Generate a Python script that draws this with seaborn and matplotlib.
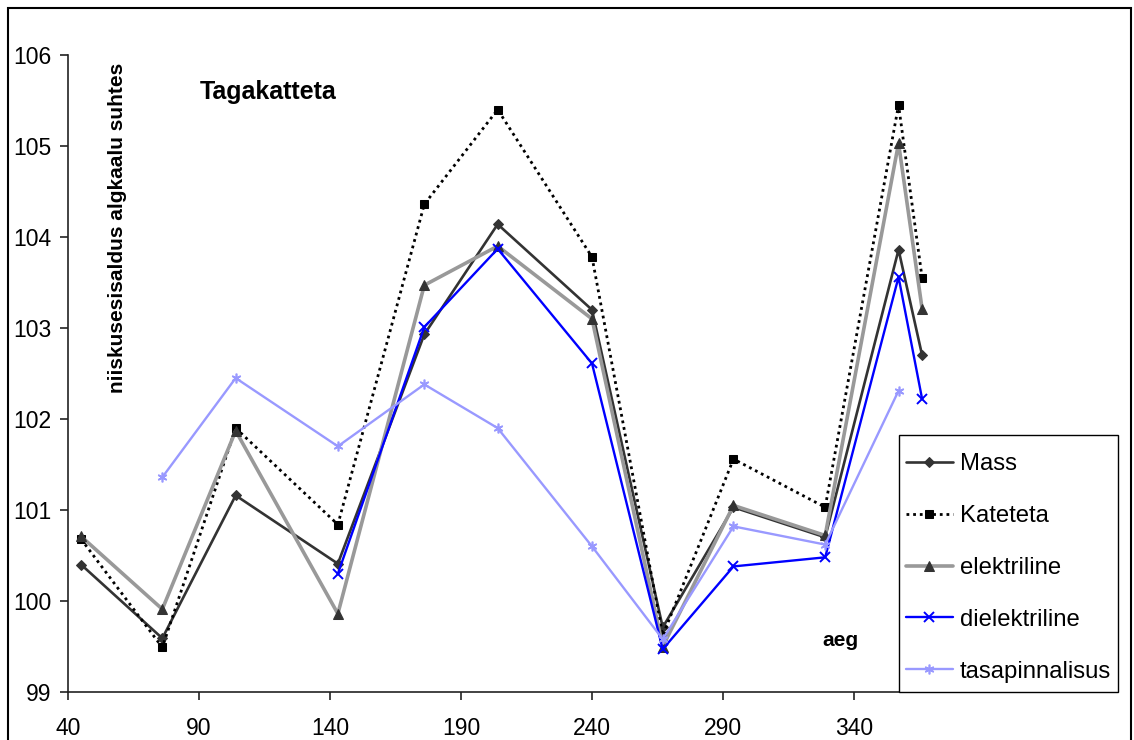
import numpy as np
import pandas as pd
import matplotlib
matplotlib.use("Agg")
import matplotlib.pyplot as plt
import seaborn as sns
from matplotlib.patches import Rectangle

# ---- data ----
days = [45, 76, 104, 143, 176, 204, 240, 267, 294, 329, 357, 366]
mass = [100.40, 99.59, 101.16, 100.41, 102.93, 104.14, 103.20, 99.71, 101.03, 100.70, 103.86, 102.70]
kateteta = [100.68, 99.49, 101.90, 100.84, 104.36, 105.40, 103.78, 99.62, 101.56, 101.03, 105.45, 103.55]
elektriline = [100.71, 99.91, 101.87, 99.86, 103.47, 103.90, 103.10, 99.50, 101.05, 100.72, 105.03, 103.21]
dielektriline = [np.nan, np.nan, np.nan, 100.30, 103.01, 103.87, 102.61, 99.47, 100.38, 100.48, 103.56, 102.22]
tasapinnalisus = [np.nan, 101.36, 102.45, 101.70, 102.38, 101.90, 100.60, 99.58, 100.82, 100.62, 102.31, np.nan]

series_names = ["Mass", "Kateteta", "elektriline", "dielektriline", "tasapinnalisus"]
series_values = [mass, kateteta, elektriline, dielektriline, tasapinnalisus]

x_ticks = [40, 90, 140, 190, 240, 290, 340]
y_ticks = [99, 100, 101, 102, 103, 104, 105, 106]

title_text = "Tagakatteta"
ylabel_text = "niiskusesisaldus algkaalu suhtes"
xlabel_text = "aeg"

# ---- style ----
sns.set_theme(style="white")
plt.rcParams["font.family"] = ["Liberation Sans", "DejaVu Sans"]
plt.rcParams["text.color"] = "black"

styles = {
    "Mass": dict(color="#333333", lw=1.9, marker="D", ms=5, mfc="#333333", mec="#333333", ls="-"),
    "Kateteta": dict(color="black", lw=2.0, marker="s", ms=6, mfc="black", mec="black", ls=(0, (1, 1.4))),
    "elektriline": dict(color="#999999", lw=2.6, marker="^", ms=7, mfc="#333333", mec="#333333", ls="-"),
    "dielektriline": dict(color="#0000FF", lw=1.7, marker="x", ms=7, mfc="#0000FF", mec="#0000FF", mew=1.4, ls="-"),
    "tasapinnalisus": dict(color="#9999FF", lw=1.7, marker=(6, 2, 0), ms=7, mfc="#9999FF", mec="#9999FF", mew=1.2, ls="-"),
}

fig = plt.figure(figsize=(11.34, 7.40), dpi=100)
ax = fig.add_axes([68 / 1134, 1 - 692 / 740, (1116 - 68) / 1134, (692 - 55) / 740])

for name, vals in zip(series_names, series_values):
    df = pd.DataFrame({"aeg": days, "v": vals}).dropna()
    st = dict(styles[name])
    ls = st.pop("ls")
    color = st.pop("color")
    lw = st.pop("lw")
    marker = st.pop("marker")
    ms = st.pop("ms")
    sns.lineplot(data=df, x="aeg", y="v", ax=ax, color=color, linewidth=lw,
                 marker=marker, markersize=ms, linestyle=ls, label=name,
                 sort=False, estimator=None, **st)

ax.set_xlim(40, 440)
ax.set_ylim(99, 106)
ax.set_xticks(x_ticks)
ax.set_yticks(y_ticks)
ax.set_xlabel("")
ax.set_ylabel("")
for s in ["top", "right"]:
    ax.spines[s].set_visible(False)
for s in ["left", "bottom"]:
    ax.spines[s].set_color("#222222")
    ax.spines[s].set_linewidth(1.2)
ax.tick_params(axis="both", which="major", direction="out", length=6, width=1.2,
               color="#222222", labelsize=16.5, labelcolor="black", pad=6,
               bottom=True, left=True)
ax.tick_params(axis="x", pad=12)
ax.grid(False)

# legend box (drawn as its own frame) and legend entries
box = Rectangle((899 / 1134, 1 - 692 / 740), (1118 - 899) / 1134, (692 - 435) / 740,
                transform=fig.transFigure, facecolor="white", edgecolor="black",
                linewidth=1.0, clip_on=False, zorder=4.5)
ax.add_patch(box)
leg = ax.legend(loc="upper left", bbox_to_anchor=(899 / 1134, 1 - 446 / 740),
                bbox_transform=fig.transFigure, borderaxespad=0, fontsize=17.2,
                frameon=False, handlelength=1.95, handletextpad=0.3,
                labelspacing=1.25, borderpad=0.3)
leg.set_zorder(5)
for t in leg.get_texts():
    t.set_color("black")

fig.text(200 / 1134, 1 - 92 / 740, title_text, fontsize=18, fontweight="bold",
         ha="left", va="center", color="black")
fig.text(118 / 1134, 1 - 228 / 740, ylabel_text, fontsize=15, fontweight="bold",
         rotation=90, ha="center", va="center", color="black")
fig.text(840 / 1134, 1 - 640 / 740, xlabel_text, fontsize=15, fontweight="bold",
         ha="center", va="center", color="black")

fig.patches.append(Rectangle((8 / 1134, -0.1), (1131 - 8) / 1134, 1.1 - 8 / 740,
                             transform=fig.transFigure, fill=False,
                             edgecolor="black", linewidth=1.5))

fig.savefig("out.png", dpi=100)
